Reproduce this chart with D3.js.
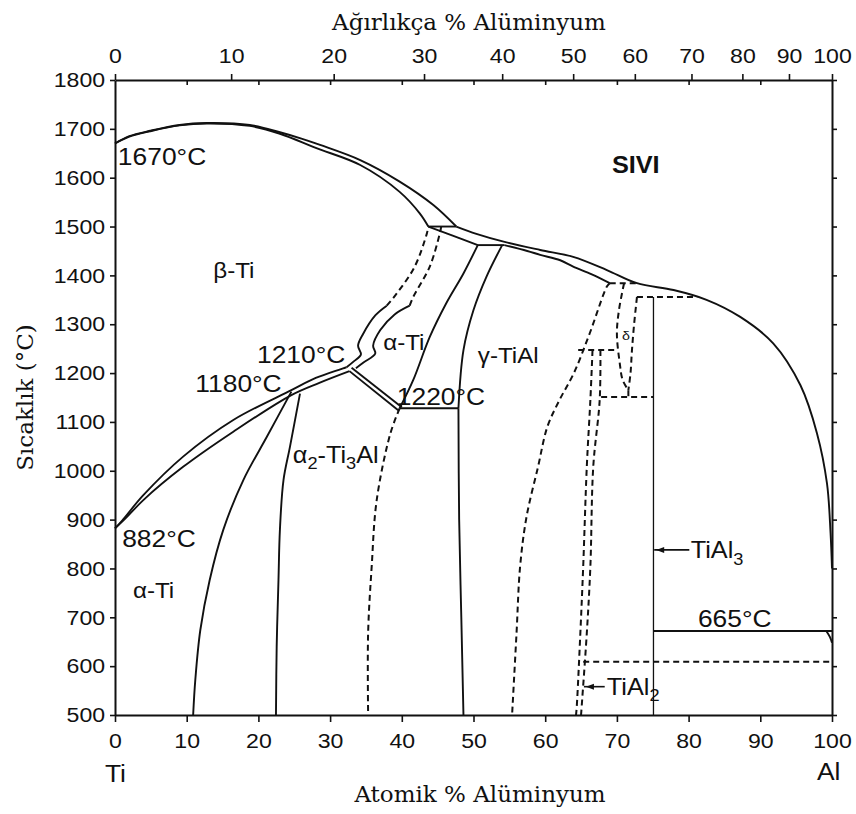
<!DOCTYPE html>
<html>
<head>
<meta charset="utf-8">
<script src="https://cdn.jsdelivr.net/npm/d3@7"></script>
<style>
  body { margin: 0; background: #fff; }
  text { fill: #111; }
</style>
</head>
<body>
<svg width="856" height="814"></svg>
<script>
// tick values
var tempTicks = [500, 600, 700, 800, 900, 1000, 1100, 1200, 1300, 1400, 1500, 1600, 1700, 1800];
var atomTicks = [0, 10, 20, 30, 40, 50, 60, 70, 80, 90, 100];
var weightLabels = ["0", "10", "20", "30", "40", "50", "60", "70", "80", "90", "100"];
// where each weight % tick sits on the atomic % axis
var weightAtPos = [0, 16.2, 30.5, 43.1, 54.0, 63.9, 72.5, 80.4, 87.5, 94.0, 100];

// phase boundaries: [atomic % Al, temperature °C]
var liquidusBeta = [[0,1670],[2,1685],[4.9,1696],[9,1708],[12.8,1712],[18.8,1708],[23,1693],[26,1680],[28.6,1667],[34.2,1636],[39.7,1592],[44.4,1544],[47.6,1500]];
var solidusBeta = [[0,1670],[2,1684],[4.9,1695],[9,1707],[12.8,1711],[18.8,1706],[23,1690],[28,1661],[34.2,1626],[39.7,1571],[42.5,1527],[43.7,1500]];
var peritectic1500 = [[43.7,1500],[47.6,1500]];
var liquidus = [[47.6,1500],[50.4,1485],[54.2,1469],[59.3,1452],[63.9,1438],[68.6,1411],[72.8,1384],[77.9,1370],[82.5,1350],[87.2,1315],[91.8,1261],[95.6,1175],[97.9,1077],[99.3,974],[99.8,872],[100,800]];
var alphaSolidus = [[43.7,1500],[47,1482],[50.6,1462]];
var peritectic1462 = [[50.6,1462],[54.3,1462]];
var gammaSolidus = [[54.3,1462],[57.5,1450],[59.3,1442],[62.1,1431],[63.9,1418],[66.5,1402],[69,1384]];
var betaTransus = [[0,882],[1,898],[3.95,950],[9.5,1029],[16.5,1104],[24.6,1165],[28,1190],[32.3,1212]];
var alphaTransus = [[0,882],[1.5,903],[3.95,940],[9.5,1008],[16.5,1080],[24.6,1155],[28.5,1180],[32.7,1204]];
var alpha2Left = [[24.6,1162],[21.2,1070],[17.9,981],[15.1,879],[13.2,776],[11.9,674],[11.2,572],[10.9,500]];
var alpha2Mid = [[25.8,1158],[24.4,1049],[23.5,981],[23.0,879],[22.8,776],[22.55,640],[22.45,500]];
var eutectoidUpper = [[33.0,1211],[40.0,1130]];
var eutectoidLower = [[32.7,1204],[39.5,1124]];
var line1128 = [[39.7,1128],[47.9,1128]];
var alphaLeft = [[32.3,1212],[33.3,1224],[34.3,1238],[33.9,1256],[34.6,1280],[36.3,1318],[37.9,1338]];
var alphaLeftTop = [[37.9,1338],[39.3,1363],[41.8,1418],[43.5,1486],[43.7,1500]];
var alphaRight = [[33.6,1210],[34.7,1222],[36.3,1240],[36.0,1256],[37.0,1288],[39.0,1320],[41.1,1338]];
var alphaRightTop = [[41.1,1338],[41.6,1356],[43.9,1418],[45.3,1486],[45.5,1500]];
var alphaGamma = [[39.7,1128],[41.6,1186],[43.9,1274],[46.2,1343],[48.6,1404],[50.6,1462]];
var gammaLeft = [[47.9,1128],[48.6,1247],[50.0,1329],[51.8,1397],[54.0,1462]];
var gammaLow = [[47.9,1128],[48.0,900],[48.3,700],[48.6,500]];
var alpha2Right = [[39.7,1128],[38.4,1076],[36.5,940],[35.8,804],[35.3,667],[35.3,505]];
var gammaRight = [[55.4,505],[56.0,667],[56.5,804],[57.4,906],[59.0,1008],[60.3,1090],[62.0,1145],[64.0,1200],[66.2,1281],[68.6,1377],[69,1384]];
var top1384 = [[69,1384],[72.8,1384]];
var deltaLeft = [[71.0,1384],[70.3,1330],[70.0,1281],[70.4,1220],[70.8,1186],[71.6,1165]];
var deltaRight = [[72.8,1356],[72.4,1300],[72.1,1247],[71.9,1200],[71.6,1165]];
var deltaStem = [[71.6,1165],[71.6,1151]];
var peritectic1356 = [[72.8,1356],[81.2,1356]];
var line1247 = [[64.6,1247],[70.0,1247]];
var line1151 = [[67.8,1151],[75.1,1151]];
var tial2Left = [[66.6,1247],[66.3,1145],[65.8,1008],[65.3,804],[64.9,667],[64.4,517],[64.3,500]];
var tial2Right = [[67.7,1247],[67.6,1145],[66.7,1008],[66.3,804],[65.8,667],[65.1,520],[65.0,500]];
var tial3 = [[75.1,1356],[75.1,500]];
var eutectic665 = [[75.1,672],[100,672]];
var line609 = [[65.3,609],[100,609]];
var alTail = [[99.2,672],[99.7,660],[100,648]];

var solidLines = [liquidusBeta, solidusBeta, peritectic1500, liquidus, alphaSolidus, peritectic1462,
  gammaSolidus, betaTransus, alphaTransus, alpha2Left, alpha2Mid, eutectoidUpper, eutectoidLower,
  line1128, alphaLeft, alphaRight, alphaGamma, gammaLeft, gammaLow, eutectic665, alTail];
var dashedLines = [alphaLeftTop, alphaRightTop, alpha2Right, gammaRight, top1384, deltaLeft, deltaRight,
  deltaStem, peritectic1356, line1247, line1151, tial2Left, tial2Right, line609];
var thinLines = [tial3];

var svg = d3.select("svg");
var sans = "'Liberation Sans', Arial, Helvetica, sans-serif";
var serif = "'DejaVu Serif', serif";

var x = d3.scaleLinear().domain([0, 100]).range([115, 832]);
var y = d3.scaleLinear().domain([500, 1800]).range([715, 80]);

var line = d3
  .line()
  .x(function (d) { return x(d[0]); })
  .y(function (d) { return y(d[1]); })
  .curve(d3.curveCatmullRom.alpha(0.5));

function styleAxis(g) {
  g.selectAll("path.domain").attr("stroke", "#111").attr("stroke-width", 2);
  g.selectAll(".tick line").attr("stroke", "#111").attr("stroke-width", 1.6);
  g.selectAll("text").attr("font-family", sans).attr("font-size", 21).attr("fill", "#111");
}

// left axis
var leftAxis = svg
  .append("g")
  .attr("transform", "translate(" + x(0) + ",0)")
  .call(d3.axisLeft(y).tickValues(tempTicks).tickSize(5).tickSizeOuter(0).tickPadding(5).tickFormat(d3.format("d")));
styleAxis(leftAxis);
leftAxis.selectAll("text").attr("x", -9).attr("transform", "scale(1.1,1)");

// right axis
var rightAxis = svg
  .append("g")
  .attr("transform", "translate(" + x(100) + ",0)")
  .call(d3.axisRight(y).tickValues(tempTicks).tickSize(5).tickSizeOuter(0).tickFormat(""));
styleAxis(rightAxis);

// bottom axis (atomic %)
var bottomAxis = svg
  .append("g")
  .attr("transform", "translate(0," + y(500) + ")")
  .call(d3.axisBottom(x).tickValues(atomTicks).tickSize(7).tickSizeOuter(0).tickPadding(11).tickFormat(d3.format("d")));
styleAxis(bottomAxis);
bottomAxis.selectAll("text").attr("transform", "scale(1.1,1)");

// top axis (weight %)
var topAxis = svg
  .append("g")
  .attr("transform", "translate(0," + y(1800) + ")")
  .call(
    d3.axisTop(x).tickValues(weightAtPos).tickSize(6).tickSizeOuter(0).tickPadding(11)
      .tickFormat(function (d, i) { return weightLabels[i]; })
  );
styleAxis(topAxis);
topAxis.selectAll("text").attr("transform", "scale(1.1,1)");

// inner atomic ticks along the top
var topInner = svg
  .append("g")
  .attr("transform", "translate(0," + y(1800) + ")")
  .call(d3.axisTop(x).tickValues(atomTicks.slice(1, 10)).tickSize(-5).tickSizeOuter(0).tickFormat(""));
styleAxis(topInner);
topInner.select("path.domain").remove();

// phase boundaries
var plot = svg.append("g").attr("fill", "none").attr("stroke", "#111").attr("stroke-linejoin", "round");

plot.selectAll("path.solid")
  .data(solidLines)
  .enter()
  .append("path")
  .attr("class", "solid")
  .attr("d", line)
  .attr("stroke-width", 1.9);

plot.selectAll("path.dashed")
  .data(dashedLines)
  .enter()
  .append("path")
  .attr("class", "dashed")
  .attr("d", line)
  .attr("stroke-width", 2)
  .attr("stroke-dasharray", "6,4");

plot.selectAll("path.thin")
  .data(thinLines)
  .enter()
  .append("path")
  .attr("class", "thin")
  .attr("d", line)
  .attr("stroke-width", 1.3);

// arrows to the line compounds
function arrow(x1, x2, t) {
  svg.append("line")
    .attr("x1", x(x1)).attr("x2", x(x2))
    .attr("y1", y(t)).attr("y2", y(t))
    .attr("stroke", "#111").attr("stroke-width", 1.6);
  var hx = x(x1) + 7, hy = y(t);
  svg.append("path")
    .attr("d", "M" + (hx - 5) + "," + hy + "L" + (hx + 3) + "," + (hy - 3) + "L" + (hx + 3) + "," + (hy + 3) + "Z")
    .attr("fill", "#111");
}
arrow(75.2, 80.1, 838);
arrow(65.4, 68.3, 558);

// labels; a part [text, "sub"] is drawn as a subscript
function label(at, t, parts, size, weight) {
  var txt = svg.append("text")
    .attr("transform", "translate(" + x(at) + "," + y(t) + ") scale(1.1,1)")
    .attr("font-family", sans)
    .attr("font-size", size)
    .attr("font-weight", weight || "normal");
  var shifted = false;
  parts.forEach(function (p) {
    var s = txt.append("tspan").text(p[0]);
    if (p[1] === "sub") {
      s.attr("font-size", size * 0.72).attr("dy", size * 0.28);
      shifted = true;
    } else if (shifted) {
      s.attr("dy", -size * 0.28);
      shifted = false;
    }
  });
}
label(0.4, 1626, [["1670°C"]], 24);
label(69.3, 1609, [["SIVI"]], 23, "bold");
label(13.7, 1395, [["β-Ti"]], 22);
label(19.8, 1221, [["1210°C"]], 24);
label(11.2, 1161, [["1180°C"]], 24);
label(37.4, 1247, [["α-Ti"]], 22);
label(50.6, 1221, [["γ-TiAl"]], 22);
label(39.3, 1135, [["1220°C"]], 24);
label(24.8, 1016, [["α"], ["2", "sub"], ["-Ti"], ["3", "sub"], ["Al"]], 23);
label(1.0, 844, [["882°C"]], 24);
label(2.5, 740, [["α-Ti"]], 22);
label(80.3, 821, [["TiAl"], ["3", "sub"]], 23);
label(81.3, 680, [["665°C"]], 24);
label(68.6, 541, [["TiAl"], ["2", "sub"]], 23);
label(70.7, 1268, [["δ"]], 13);
label(-1.4, 363, [["Ti"]], 24);
label(97.9, 367, [["Al"]], 24);

// axis titles
svg.append("text")
  .attr("x", 469).attr("y", 30)
  .attr("text-anchor", "middle")
  .attr("font-family", serif).attr("font-size", 23)
  .text("Ağırlıkça % Alüminyum");

svg.append("text")
  .attr("x", 480).attr("y", 802)
  .attr("text-anchor", "middle")
  .attr("font-family", serif).attr("font-size", 23)
  .text("Atomik % Alüminyum");

svg.append("text")
  .attr("transform", "translate(33," + y(1150) + ") rotate(-90)")
  .attr("text-anchor", "middle")
  .attr("font-family", serif).attr("font-size", 23)
  .text("Sıcaklık (°C)");
</script>
</body>
</html>
